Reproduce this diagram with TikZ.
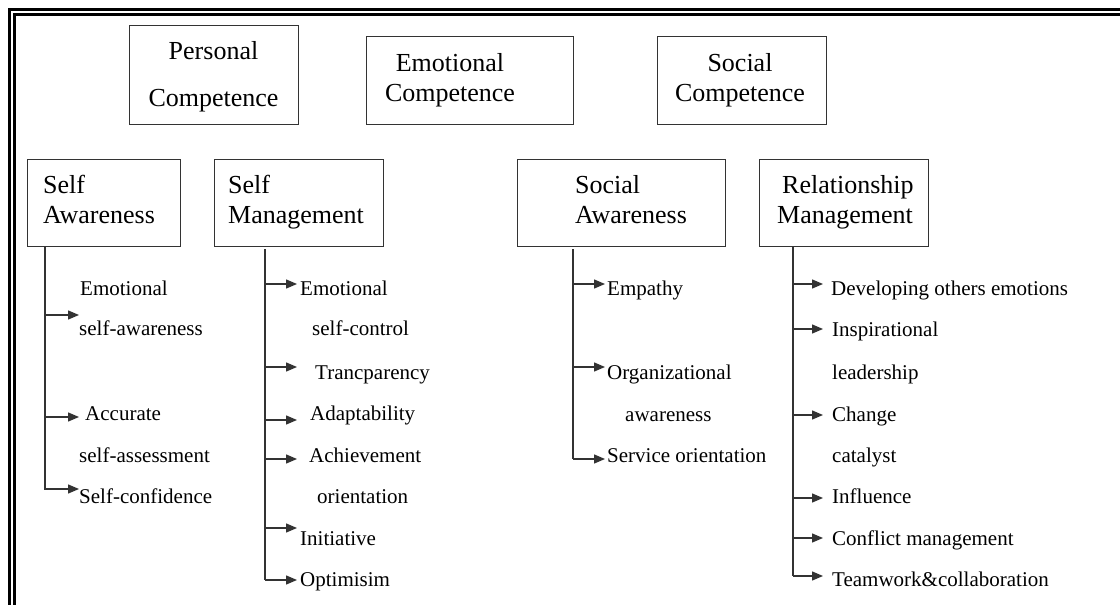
\documentclass[tikz,border=0pt]{standalone}
\usepackage{fontspec}
\setmainfont{Liberation Serif}
\usetikzlibrary{arrows.meta}
\tikzset{
  box/.style={draw=black!80, line width=1.3pt, anchor=north west, inner sep=0pt},
  head/.style={font=\fontsize{26}{30}\selectfont, align=center, anchor=base, inner sep=0pt},
  title/.style={font=\fontsize{26}{30}\selectfont, align=left, anchor=base west, inner sep=0pt},
  item/.style={font=\fontsize{21}{25}\selectfont, anchor=base west, inner sep=0pt},
  trunk/.style={draw=black!80, line width=1.4pt},
  arr/.style={trunk, -{Triangle[length=11pt,width=9pt]}}
}
\begin{document}
\begin{tikzpicture}[x=1pt, y=-1pt]
            \useasboundingbox (0,0) rectangle (1120,605);
            \draw [line width=3pt] (9.5,605) -- (9.5,9.5) -- (1120,9.5);
            \draw [line width=3pt] (14.5,605) -- (14.5,14.5) -- (1120,14.5);

            \node [box, minimum width=169pt, minimum height=99pt] (pc) at (129,25) {};
            \node [box, minimum width=207pt, minimum height=88pt] (ec) at (366,36) {};
            \node [box, minimum width=169pt, minimum height=88pt] (sc) at (657,36) {};
            \node [head] (pct) at (213.5,106) {Personal\\[17pt]Competence};
            \node [head] (ect) at (450,101) {Emotional\\Competence};
            \node [head] (sct) at (740,101) {Social\\Competence};

            \node [box, minimum width=153pt, minimum height=87pt] (sa) at (27,159) {};
            \node [box, minimum width=169pt, minimum height=87pt] (sm) at (214,159) {};
            \node [box, minimum width=208pt, minimum height=87pt] (soa) at (517,159) {};
            \node [box, minimum width=169pt, minimum height=87pt] (rm) at (759,159) {};
            \node [title] (sat) at (43,223) {Self\\Awareness};
            \node [title] (smt) at (228,223) {Self\\Management};
            \node [title] (soat) at (575,223) {Social\\Awareness};
            \node [title] (rmt) at (777,223) {\hspace*{5pt}Relationship\\Management};

            \node [item] (sa1) at (80,295) {Emotional};
            \node [item] (sa1b) at (79,335) {self-awareness};
            \node [item] (sa2) at (85,420) {Accurate};
            \node [item] (sa2b) at (79,462) {self-assessment};
            \node [item] (sa3) at (79,503) {Self-confidence};

            \node [item] (sm1) at (300,295) {Emotional};
            \node [item] (sm1b) at (312,335) {self-control};
            \node [item] (sm2) at (315,379) {Trancparency};
            \node [item] (sm3) at (310,420) {Adaptability};
            \node [item] (sm4) at (309,462) {Achievement};
            \node [item] (sm4b) at (317,503) {orientation};
            \node [item] (sm5) at (300,545) {Initiative};
            \node [item] (sm6) at (300,586) {Optimisim};

            \node [item] (soa1) at (607,295) {Empathy};
            \node [item] (soa2) at (607,379) {Organizational};
            \node [item] (soa2b) at (625,421) {awareness};
            \node [item] (soa3) at (607,462) {Service orientation};

            \node [item] (rm1) at (831,295) {Developing others emotions};
            \node [item] (rm2) at (832,336) {Inspirational};
            \node [item] (rm2b) at (832,379) {leadership};
            \node [item] (rm3) at (832,421) {Change};
            \node [item] (rm3b) at (832,462) {catalyst};
            \node [item] (rm4) at (832,503) {Influence};
            \node [item] (rm5) at (832,545) {Conflict management};
            \node [item] (rm6) at (832,586) {Teamwork\&collaboration};

            \coordinate (satop) at (45,246);
            \coordinate (sabot) at (45,490);
            \coordinate (smtop) at (265,249);
            \coordinate (smbot) at (265,580);
            \coordinate (soatop) at (573,249);
            \coordinate (soabot) at (573,459);
            \coordinate (rmtop) at (793,246);
            \coordinate (rmbot) at (793,576);
            \draw [trunk] (satop) -- (sabot);
            \draw [trunk] (smtop) -- (smbot);
            \draw [trunk] (soatop) -- (soabot);
            \draw [trunk] (rmtop) -- (rmbot);

            \coordinate (sa1t) at (79,315);
            \coordinate (sa2t) at (79,417);
            \coordinate (sa3t) at (79,489);
            \draw [arr] (satop |- sa1t) -- (sa1t);
            \draw [arr] (satop |- sa2t) -- (sa2t);
            \draw [arr] (satop |- sa3t) -- (sa3t);

            \coordinate (sm1t) at (297,284);
            \coordinate (sm2t) at (297,367);
            \coordinate (sm3t) at (297,420);
            \coordinate (sm4t) at (297,459);
            \coordinate (sm5t) at (297,528);
            \coordinate (sm6t) at (297,580);
            \draw [arr] (smtop |- sm1t) -- (sm1t);
            \draw [arr] (smtop |- sm2t) -- (sm2t);
            \draw [arr] (smtop |- sm3t) -- (sm3t);
            \draw [arr] (smtop |- sm4t) -- (sm4t);
            \draw [arr] (smtop |- sm5t) -- (sm5t);
            \draw [arr] (smtop |- sm6t) -- (sm6t);

            \coordinate (soa1t) at (605,284);
            \coordinate (soa2t) at (605,367);
            \coordinate (soa3t) at (605,459);
            \draw [arr] (soatop |- soa1t) -- (soa1t);
            \draw [arr] (soatop |- soa2t) -- (soa2t);
            \draw [arr] (soatop |- soa3t) -- (soa3t);

            \coordinate (rm1t) at (823,284);
            \coordinate (rm2t) at (823,329);
            \coordinate (rm3t) at (823,415);
            \coordinate (rm4t) at (823,498);
            \coordinate (rm5t) at (823,538);
            \coordinate (rm6t) at (823,576);
            \draw [arr] (rmtop |- rm1t) -- (rm1t);
            \draw [arr] (rmtop |- rm2t) -- (rm2t);
            \draw [arr] (rmtop |- rm3t) -- (rm3t);
            \draw [arr] (rmtop |- rm4t) -- (rm4t);
            \draw [arr] (rmtop |- rm5t) -- (rm5t);
            \draw [arr] (rmtop |- rm6t) -- (rm6t);
\end{tikzpicture}
\end{document}
